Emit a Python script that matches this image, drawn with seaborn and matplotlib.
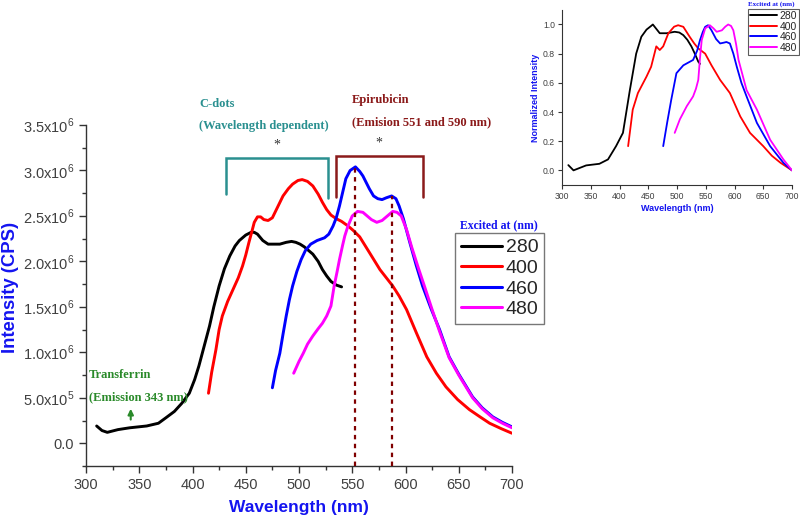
import numpy as np
import pandas as pd
import matplotlib
matplotlib.use("Agg")
import matplotlib.pyplot as plt
from matplotlib.lines import Line2D
import seaborn as sns

# ---------------- data (main panel, x1e6 CPS) ----------------
wl_280 = [310, 315, 320, 330, 341, 357, 368, 375, 383, 390, 397, 402, 406, 411, 416, 420, 425, 430, 435, 440,
          444, 450, 455, 458, 461, 466, 471, 476, 482, 488, 493, 497, 501, 505, 509, 513, 518, 522, 526, 530, 535, 540]
i_280 = [0.19, 0.14, 0.12, 0.15, 0.17, 0.19, 0.22, 0.28, 0.35, 0.44, 0.55, 0.70, 0.85, 1.07, 1.29, 1.50, 1.73, 1.92,
         2.06, 2.17, 2.23, 2.29, 2.32, 2.32, 2.30, 2.23, 2.19, 2.19, 2.19, 2.21, 2.22, 2.21, 2.19, 2.16, 2.12, 2.08,
         2.00, 1.91, 1.84, 1.78, 1.74, 1.72]

wl_400 = [415, 418, 422, 425, 428, 433, 438, 443, 447, 450, 453, 456, 458, 461, 464, 467, 471, 475, 480, 485, 490,
          494, 499, 503, 508, 513, 518, 522, 526, 530, 535, 540, 546, 551, 557, 566, 576, 582, 588, 594, 601, 610,
          620, 629, 638, 649, 660, 670, 679, 690, 700]
i_400 = [0.55, 0.78, 1.03, 1.25, 1.40, 1.56, 1.69, 1.82, 1.95, 2.07, 2.21, 2.34, 2.43, 2.49, 2.49, 2.46, 2.45, 2.48,
         2.60, 2.72, 2.80, 2.85, 2.89, 2.90, 2.88, 2.83, 2.74, 2.65, 2.57, 2.51, 2.47, 2.44, 2.39, 2.34, 2.27, 2.10,
         1.91, 1.82, 1.73, 1.62, 1.47, 1.22, 0.95, 0.77, 0.62, 0.48, 0.37, 0.29, 0.22, 0.16, 0.11]

wl_460 = [475, 478, 482, 485, 488, 491, 494, 498, 502, 506, 511, 517, 524, 528, 532, 535, 538, 541, 544, 548, 553,
          557, 560, 563, 566, 570, 574, 578, 582, 587, 591, 594, 598, 604, 610, 616, 624, 632, 641, 650, 663, 672,
          682, 691, 700]
i_460 = [0.61, 0.80, 0.99, 1.20, 1.40, 1.58, 1.73, 1.89, 2.02, 2.12, 2.19, 2.23, 2.26, 2.30, 2.39, 2.48, 2.61, 2.76,
         2.91, 3.00, 3.04, 2.99, 2.94, 2.87, 2.80, 2.72, 2.69, 2.68, 2.70, 2.72, 2.69, 2.61, 2.47, 2.21, 1.96, 1.73,
         1.48, 1.25, 0.95, 0.76, 0.51, 0.39, 0.29, 0.23, 0.18]

wl_480 = [495, 500, 504, 508, 513, 518, 522, 526, 530, 533, 536, 538, 541, 543, 546, 550, 555, 560, 564, 568, 573,
          578, 583, 588, 592, 596, 601, 606, 612, 618, 625, 632, 641, 650, 663, 672, 682, 691, 700]
i_480 = [0.77, 0.90, 0.99, 1.09, 1.18, 1.26, 1.32, 1.40, 1.51, 1.73, 1.90, 2.02, 2.18, 2.28, 2.39, 2.50, 2.55, 2.54,
         2.50, 2.46, 2.43, 2.45, 2.50, 2.55, 2.54, 2.50, 2.35, 2.15, 1.93, 1.72, 1.47, 1.23, 0.94, 0.75, 0.50, 0.38,
         0.28, 0.22, 0.17]

# ---------------- data (inset, normalized) ----------------
n_wl_280 = [311, 320, 342, 365, 380, 394, 406, 418, 429, 438, 447, 455, 458, 463, 470, 482, 496, 504, 511, 518, 525,
            531, 537, 540]
n_280 = [0.036, 0.0, 0.034, 0.045, 0.075, 0.166, 0.257, 0.55, 0.80, 0.916, 0.965, 0.99, 1.0, 0.975, 0.94, 0.94, 0.95,
         0.945, 0.927, 0.895, 0.85, 0.80, 0.745, 0.73]

n_wl_400 = [415, 423, 432, 447, 455, 464, 470, 476, 485, 495, 502, 511, 522, 530, 537, 549, 560, 575, 592, 610, 627,
            650, 665, 680, 700]
n_400 = [0.166, 0.416, 0.53, 0.643, 0.71, 0.85, 0.825, 0.85, 0.94, 0.985, 0.995, 0.984, 0.916, 0.87, 0.836, 0.80,
         0.72, 0.62, 0.53, 0.37, 0.257, 0.166, 0.10, 0.052, 0.0]

n_wl_460 = [476, 483, 490, 499, 511, 528, 535, 540, 545, 549, 554, 560, 568, 575, 581, 586, 592, 598, 604, 612, 621,
            639, 662, 685, 700]
n_460 = [0.166, 0.33, 0.484, 0.666, 0.72, 0.757, 0.82, 0.893, 0.95, 0.984, 0.995, 0.96, 0.90, 0.87, 0.875, 0.88,
         0.87, 0.80, 0.71, 0.60, 0.507, 0.325, 0.166, 0.052, 0.0]

n_wl_480 = [496, 505, 517, 528, 533, 537, 540, 543, 549, 557, 563, 569, 578, 584, 589, 594, 598, 603, 607, 621, 639,
            662, 685, 700]
n_480 = [0.257, 0.35, 0.44, 0.507, 0.56, 0.62, 0.77, 0.893, 0.973, 0.995, 0.975, 0.95, 0.96, 0.985, 1.0, 0.99, 0.96,
         0.86, 0.757, 0.55, 0.416, 0.21, 0.075, 0.0]

series = ["280", "400", "460", "480"]
colors = ["#000000", "#ff0000", "#0000ff", "#ff00ff"]

x_ticks = [300, 350, 400, 450, 500, 550, 600, 650, 700]
y_ticks = [0.0, 0.5, 1.0, 1.5, 2.0, 2.5, 3.0, 3.5]
y_tick_labels = ["0.0", "5.0x10$^{\\mathregular{5}}$", "1.0x10$^{\\mathregular{6}}$", "1.5x10$^{\\mathregular{6}}$",
                 "2.0x10$^{\\mathregular{6}}$", "2.5x10$^{\\mathregular{6}}$", "3.0x10$^{\\mathregular{6}}$",
                 "3.5x10$^{\\mathregular{6}}$"]
peak_lines = [553, 587]
peak_tops = [3.04, 2.72]

main_df = pd.concat([
    pd.DataFrame({"wl": w, "I": np.array(v) * 1e6, "ex": s})
    for w, v, s in zip([wl_280, wl_400, wl_460, wl_480], [i_280, i_400, i_460, i_480], series)
])
norm_df = pd.concat([
    pd.DataFrame({"wl": w, "I": v, "ex": s})
    for w, v, s in zip([n_wl_280, n_wl_400, n_wl_460, n_wl_480], [n_280, n_400, n_460, n_480], series)
])

sns.set_theme(style="ticks")
plt.rcParams["font.family"] = ["Liberation Sans", "DejaVu Sans"]
plt.rcParams["mathtext.fontset"] = "custom"
plt.rcParams["mathtext.rm"] = "Liberation Sans"
plt.rcParams["lines.solid_joinstyle"] = "round"
plt.rcParams["lines.solid_capstyle"] = "round"

SERIF = ["Liberation Serif", "DejaVu Serif"]
BLUE = "#1414f0"
TICKC = "#404040"

fig = plt.figure(figsize=(8.0, 5.21), dpi=100)
ax = fig.add_axes([0.1075, 0.1056, 0.5325, 0.6544])

pal = dict(zip(series, colors))
sns.lineplot(data=main_df, x="wl", y="I", hue="ex", palette=pal, sort=False,
             estimator=None, linewidth=2.1, ax=ax, legend=False)

ax.set_xlim(300, 700)
ax.set_ylim(-0.25e6, 3.5e6)
ax.set_xticks(x_ticks)
ax.set_xticks(np.arange(325, 700, 50), minor=True)
ax.set_yticks(np.array(y_ticks) * 1e6)
ax.set_yticklabels(y_tick_labels)
ax.set_yticks(np.arange(-0.25, 3.5, 0.5) * 1e6, minor=True)
for sp in ["top", "right"]:
    ax.spines[sp].set_visible(False)
for sp in ["left", "bottom"]:
    ax.spines[sp].set_color("#333333")
    ax.spines[sp].set_linewidth(1.0)
ax.tick_params(axis="both", which="major", direction="out", length=5, width=1,
               colors="#333333", labelsize=10.5, labelcolor=TICKC)
ax.tick_params(axis="both", which="minor", direction="out", length=3, width=1, colors="#333333")
ax.set_xlabel("Wavelength (nm)", fontsize=12.5, fontweight="bold", color=BLUE, labelpad=6)
ax.set_ylabel("Intensity (CPS)", fontsize=13.3, fontweight="bold", color=BLUE)
ax.yaxis.set_label_coords(-0.157, 0.525)

# dotted peak lines
for xl, top in zip(peak_lines, peak_tops):
    ax.plot([xl, xl], [-0.25e6, top * 1e6], color="#800000", linestyle=(0, (2, 2)), linewidth=1.6, zorder=5)

# brackets
teal = "#2a9090"
dred = "#8b1a1a"
ax.plot([431, 431, 527, 527], [2.74e6, 3.14e6, 3.14e6, 2.70e6], color=teal, lw=1.8, clip_on=False,
        solid_joinstyle="miter")
ax.plot([535, 535, 616, 616], [2.71e6, 3.16e6, 3.16e6, 2.71e6], color=dred, lw=1.8, clip_on=False,
        solid_joinstyle="miter")
ax.text(479, 3.28e6, "*", color="#333333", fontsize=10, ha="center", va="center", family=SERIF)
ax.text(575, 3.30e6, "*", color="#333333", fontsize=10, ha="center", va="center", family=SERIF)

ax.text(406, 3.73e6, "C-dots", color=teal, fontsize=9, fontweight="bold", family=SERIF,
        ha="left", va="center", clip_on=False)
ax.text(406, 3.49e6, "(Wavelength dependent)", color=teal, fontsize=9, fontweight="bold", family=SERIF,
        ha="left", va="center", clip_on=False)
ax.text(550, 3.77e6, "Epirubicin", color=dred, fontsize=9,
        fontweight="bold", family=SERIF, ha="left", va="center", clip_on=False)
ax.text(550, 3.53e6, "(Emision 551 and 590 nm)", color=dred,
        fontsize=9, fontweight="bold", family=SERIF, ha="left", va="center", clip_on=False)

green = "#2a8a2a"
ax.text(303, 0.75e6, "Transferrin", color=green, fontsize=9, fontweight="bold", family=SERIF,
        ha="left", va="center")
ax.text(303, 0.51e6, "(Emission 343 nm)", color=green, fontsize=9, fontweight="bold", family=SERIF,
        ha="left", va="center")
ax.annotate("", xy=(342, 0.41e6), xytext=(342, 0.23e6),
            arrowprops=dict(arrowstyle="-|>", color=green, lw=1.5, mutation_scale=8))

# legend
handles = [Line2D([0], [0], color=c, lw=2.2) for c in colors]
leg = ax.legend(handles, series, loc="upper left", bbox_to_anchor=(455 / 800, 1 - 233 / 521),
                bbox_transform=fig.transFigure, fontsize=14, frameon=True, fancybox=False,
                handlelength=2.1, handletextpad=0.2, borderpad=0.3, labelspacing=0.15,
                borderaxespad=0)
leg.get_frame().set_edgecolor("#555555")
leg.get_frame().set_linewidth(1.0)
fig.text(499 / 800, 1 - 225 / 521, "Excited at (nm)", color=BLUE, fontsize=8.5, fontweight="bold",
         family=SERIF, ha="center", va="center")

# ---------------- inset ----------------
ax2 = fig.add_axes([0.7025, 0.645, 0.2875, 0.336])
sns.lineplot(data=norm_df, x="wl", y="I", hue="ex", palette=pal, sort=False,
             estimator=None, linewidth=1.3, ax=ax2, legend=False)
ax2.set_xlim(300, 700)
ax2.set_ylim(-0.1, 1.1)
ax2.set_xticks(x_ticks)
ax2.set_yticks([0.0, 0.2, 0.4, 0.6, 0.8, 1.0])
ax2.set_yticklabels(["0.0", "0.2", "0.4", "0.6", "0.8", "1.0"])
for sp in ["top", "right"]:
    ax2.spines[sp].set_visible(False)
for sp in ["left", "bottom"]:
    ax2.spines[sp].set_color("#333333")
    ax2.spines[sp].set_linewidth(0.8)
ax2.tick_params(axis="both", which="major", direction="out", length=3, width=0.8,
                colors="#333333", labelsize=6.2, labelcolor=TICKC, pad=2)
ax2.set_xlabel("Wavelength (nm)", fontsize=6.5, fontweight="bold", color=BLUE, labelpad=2)
ax2.set_ylabel("Normalized Intensity", fontsize=6.5, fontweight="bold", color=BLUE, labelpad=2)
handles2 = [Line2D([0], [0], color=c, lw=1.4) for c in colors]
leg2 = ax2.legend(handles2, series, loc="upper left", bbox_to_anchor=(748 / 800, 1 - 9 / 521),
                  bbox_transform=fig.transFigure, fontsize=7.5, frameon=True, fancybox=False,
                  handlelength=2.6, handletextpad=0.2, borderpad=0.2, labelspacing=0.05,
                  borderaxespad=0)
leg2.get_frame().set_edgecolor("#333333")
leg2.get_frame().set_linewidth(0.8)
fig.text(771 / 800, 1 - 4 / 521, "Excited at (nm)", color=BLUE, fontsize=5, fontweight="bold",
         family=SERIF, ha="center", va="center")

fig.savefig("out.png", dpi=100)
